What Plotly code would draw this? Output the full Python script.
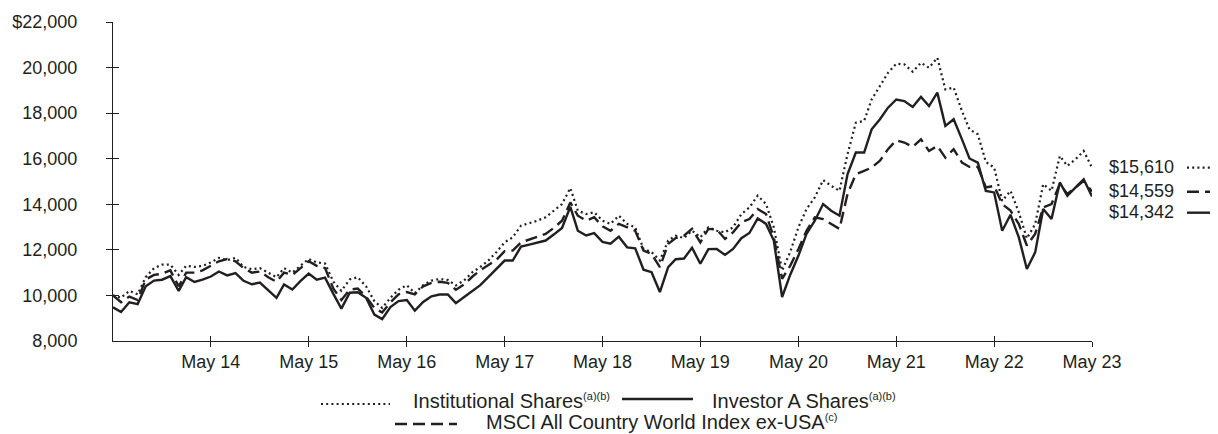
import pandas as pd
import plotly.graph_objects as go

# ---------------- data ----------------
dates = pd.date_range("2013-05-31", periods=121, freq="ME")

institutional = [
    10000, 9900, 10200, 10050, 10800, 11200, 11350, 11350, 10900, 11300,
    11250, 11300, 11450, 11650, 11550, 11650, 11250, 11150, 11200, 11000,
    10800, 11200, 11000, 11300, 11600, 11450, 11400, 10600, 10200, 10700,
    10800, 10400, 9750, 9450, 9900, 10250, 10450, 10100, 10450, 10650,
    10720, 10680, 10440, 10660, 11020, 11240, 11530, 11900, 12330, 12550,
    13060, 13170, 13280, 13430, 13720, 14010, 14710, 13720, 13570, 13650,
    13280, 13140, 13500, 13140, 12990, 12040, 11900, 11530, 12410, 12620,
    12520, 12840, 12550, 12990, 12840, 12770, 12990, 13570, 13860, 14380,
    14010, 12990, 11090, 11900, 12990, 13790, 14300, 15060, 14810, 14590,
    16200, 17580, 17660, 18600, 19190, 19770, 20170, 20140, 19820, 20210,
    19990, 20430, 19040, 19120, 18090, 17290, 17070, 15860, 15610, 14150,
    14590, 13650, 12500, 13130, 14880, 14590, 16120, 15690, 15980, 16340,
    15610,
]

investor_a = [
    9475, 9270, 9700, 9620, 10400, 10650, 10690, 10850, 10200, 10800,
    10590, 10690, 10830, 11050, 10880, 10980, 10640, 10490, 10560, 10230,
    9890, 10480, 10260, 10630, 10960, 10690, 10780, 10070, 9420, 10120,
    10140, 9900, 9160, 8960, 9490, 9750, 9800, 9330, 9710, 9960,
    10040, 10040, 9660, 9930, 10190, 10440, 10800, 11170, 11530, 11530,
    12140, 12230, 12330, 12410, 12670, 12960, 13890, 12840, 12630, 12730,
    12350, 12270, 12580, 12110, 12070, 11130, 11020, 10150, 11240, 11590,
    11620, 12090, 11390, 12030, 12040, 11780, 12040, 12510, 12740, 13380,
    13140, 12410, 9930, 10900, 11750, 12700, 13280, 14010, 13720, 13500,
    15320, 16270, 16270, 17290, 17730, 18240, 18600, 18530, 18270, 18710,
    18310, 18900, 17440, 17730, 16850, 16010, 15830, 14590, 14520, 12840,
    13540, 12550, 11160, 11890, 13790, 13350, 14960, 14370, 14740, 15100,
    14342,
]

msci_acwi_ex_usa = [
    10000, 9700, 9950, 9800, 10700, 10900, 10950, 11100, 10400, 11000,
    11000, 11100, 11300, 11500, 11600, 11500, 11200, 11000, 11050, 10800,
    10600, 11000, 10900, 11200, 11500, 11300, 11200, 10300, 9800, 10250,
    10300, 9950, 9450, 9250, 9700, 10050, 10150, 10050, 10400, 10550,
    10600, 10550, 10250, 10480, 10830, 11090, 11310, 11560, 11940, 11970,
    12330, 12450, 12550, 12700, 12960, 13280, 14080, 13500, 13280, 13430,
    13030, 12840, 13140, 12990, 12840, 11970, 11820, 11240, 12260, 12520,
    12620, 12920, 12330, 12920, 12900, 12480, 12770, 13210, 13350, 13790,
    13570, 12550, 10730, 11300, 12040, 12840, 13430, 13350, 13130, 12920,
    14450, 15320, 15470, 15610, 15910, 16420, 16810, 16710, 16520, 16850,
    16340, 16560, 16050, 16420, 15830, 15640, 15640, 14740, 14810, 14010,
    13720, 13130, 12190, 12700, 13860, 14010, 14890, 14450, 14740, 15030,
    14559,
]

SUP = '<sup><span style="font-size:11px">{}</span></sup>'
series_names = [
    "Institutional Shares" + SUP.format("(a)(b)"),
    "Investor A Shares" + SUP.format("(a)(b)"),
    "MSCI All Country World Index ex-USA" + SUP.format("(c)"),
]
end_labels = ["$15,610", "$14,559", "$14,342"]

x_tick_dates = [dates[i] for i in range(12, 121, 12)]
x_tick_text = ["May 14", "May 15", "May 16", "May 17", "May 18",
               "May 19", "May 20", "May 21", "May 22", "May 23"]
y_tick_vals = [8000, 10000, 12000, 14000, 16000, 18000, 20000, 22000]
y_tick_text = ["8,000", "10,000", "12,000", "14,000", "16,000", "18,000",
               "20,000", "$22,000"]

# ---------------- style ----------------
INK = "#231f20"
FONT = "Liberation Sans, Arial, sans-serif"
DOT = "2px,3.2px"
DASH = "12px,6px"

# the page body has an 8px margin, so the figure is placed at (8, 8)
OFF = 8
W, H = 1218 - OFF, 434 - OFF
PLOT_L, PLOT_R, PLOT_T, PLOT_B = 113, 1092, 22, 341   # page pixels
ML = PLOT_L - OFF
MT = PLOT_T - OFF
MR = (W + OFF) - PLOT_R
MB = (H + OFF) - PLOT_B
PW, PH = PLOT_R - PLOT_L, PLOT_B - PLOT_T


def px_x(px):
    return (px - PLOT_L) / PW


def px_y(py):
    return (PLOT_B - py) / PH


fig = go.Figure()
fig.add_trace(go.Scatter(x=dates, y=institutional, mode="lines",
                         line=dict(color=INK, width=2.2, dash=DOT),
                         showlegend=False, hoverinfo="skip"))
fig.add_trace(go.Scatter(x=dates, y=msci_acwi_ex_usa, mode="lines",
                         line=dict(color=INK, width=2.4, dash=DASH),
                         showlegend=False, hoverinfo="skip"))
fig.add_trace(go.Scatter(x=dates, y=investor_a, mode="lines",
                         line=dict(color=INK, width=2.4),
                         showlegend=False, hoverinfo="skip"))
# empty traces to activate the overlay axes used for crossing tick marks
fig.add_trace(go.Scatter(x=[], y=[], xaxis="x2", yaxis="y2", showlegend=False))
fig.add_trace(go.Scatter(x=[], y=[], xaxis="x", yaxis="y3", showlegend=False))

xr = [dates[0], dates[-1]]
yr = [8000, 22000]

fig.update_layout(
    width=W, height=H,
    margin=dict(l=ML, r=MR, t=MT, b=MB, autoexpand=False),
    paper_bgcolor="white", plot_bgcolor="white",
    font=dict(family=FONT, color=INK, size=18),
    xaxis=dict(type="date", range=xr, tickmode="array", tickvals=x_tick_dates,
               ticktext=x_tick_text, ticks="outside", ticklen=5, tickwidth=1,
               tickcolor=INK, showline=True, linecolor=INK, linewidth=1,
               showgrid=False, zeroline=False, tickfont=dict(size=18),
               ticklabelstandoff=-1, automargin=False),
    xaxis2=dict(type="date", range=xr, overlaying="x", anchor="y",
                tickmode="array", tickvals=x_tick_dates, ticks="inside",
                ticklen=5, tickwidth=1, tickcolor=INK, showticklabels=False,
                showline=False, showgrid=False, zeroline=False,
                automargin=False),
    yaxis=dict(range=yr, tickmode="array", tickvals=y_tick_vals,
               ticktext=y_tick_text, ticks="", showline=True, linecolor=INK,
               linewidth=1, showgrid=False, zeroline=False,
               tickfont=dict(size=18), ticklabelstandoff=31, automargin=False),
    yaxis2=dict(range=yr, overlaying="y", anchor="x2", tickmode="array",
                tickvals=y_tick_vals[1:], ticks="inside", ticklen=6,
                tickwidth=1, tickcolor=INK, showticklabels=False,
                showline=False, showgrid=False, zeroline=False,
                automargin=False),
    yaxis3=dict(range=yr, overlaying="y", anchor="x", tickmode="array",
                tickvals=y_tick_vals[1:], ticks="outside", ticklen=6,
                tickwidth=1, tickcolor=INK, showticklabels=False,
                showline=False, showgrid=False, zeroline=False,
                automargin=False),
)

# ---- end-of-line value labels with line-style keys ----
end_y_px = [166.7, 190.7, 211.7]
end_styles = [DOT, DASH, "solid"]
end_widths = [2.2, 2.4, 2.4]
for lbl, py, dsh, lw in zip(end_labels, end_y_px, end_styles, end_widths):
    fig.add_annotation(x=px_x(1107), y=px_y(py), xref="paper", yref="paper",
                       text=lbl, showarrow=False, xanchor="left",
                       yanchor="middle", font=dict(size=18, color=INK))
    fig.add_shape(type="line", xref="paper", yref="paper",
                  x0=px_x(1187), x1=px_x(1218), y0=px_y(py + 1),
                  y1=px_y(py + 1), line=dict(color=INK, width=lw, dash=dsh))

# ---- legend (built by hand to match layout) ----
legend_items = [
    # name, line dash, width, sample x0, x1, line y, text x, text y (page px)
    (series_names[0], DOT, 2.2, 321, 390, 404, 411, 401),
    (series_names[1], "solid", 2.4, 622, 693, 399, 710, 401),
    (series_names[2], DASH, 2.4, 395, 457, 424, 484, 422),
]
for name, dsh, lw, sx0, sx1, sy, tx, ty in legend_items:
    fig.add_shape(type="line", xref="paper", yref="paper",
                  x0=px_x(sx0), x1=px_x(sx1), y0=px_y(sy), y1=px_y(sy),
                  line=dict(color=INK, width=lw, dash=dsh))
    fig.add_annotation(x=px_x(tx), y=px_y(ty), xref="paper", yref="paper",
                       text=name, showarrow=False, xanchor="left",
                       yanchor="middle", font=dict(size=20, color=INK))

fig.write_html("out.html")
